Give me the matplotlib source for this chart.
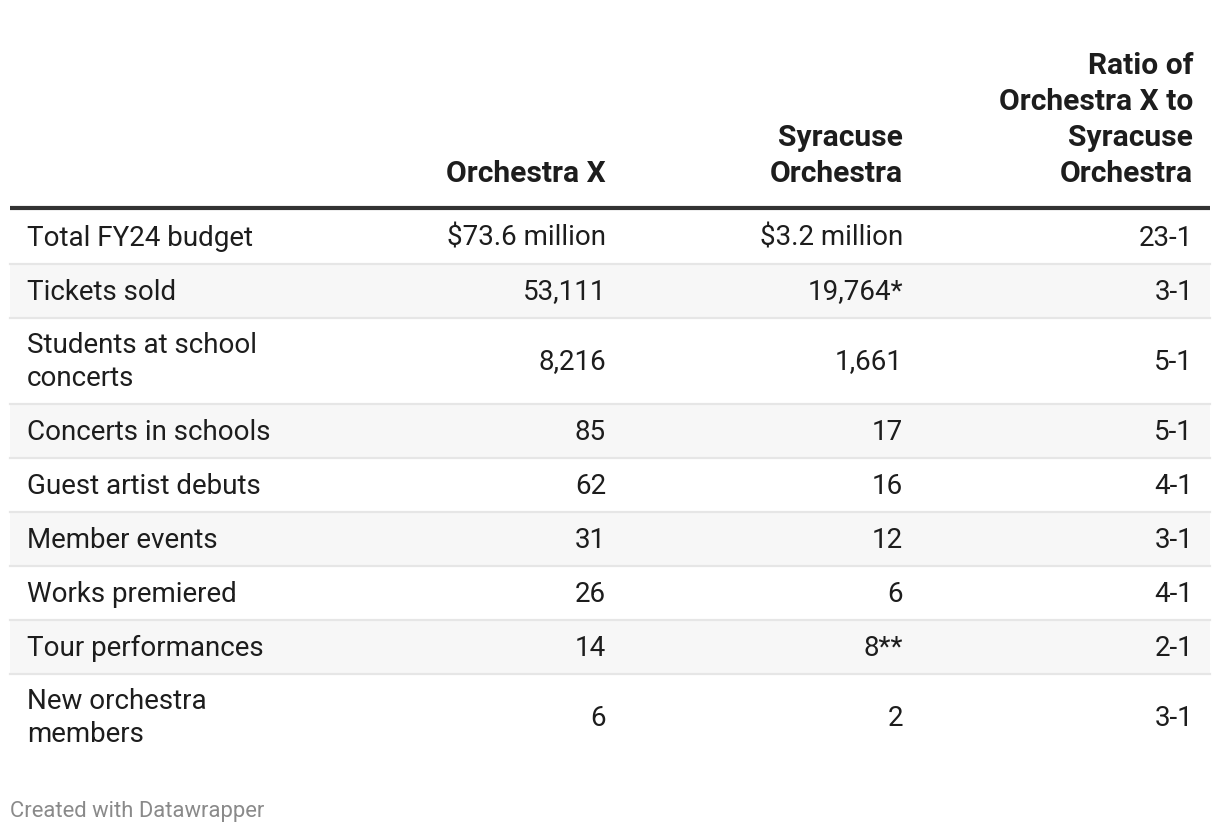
import matplotlib.pyplot as plt
from matplotlib.patches import Rectangle

plt.rcParams['font.family'] = ['Roboto', 'DejaVu Sans']

columns = ['Orchestra X', 'Syracuse\nOrchestra', 'Ratio of\nOrchestra X to\nSyracuse\nOrchestra']
row_labels = ['Total FY24 budget', 'Tickets sold', 'Students at school\nconcerts',
              'Concerts in schools', 'Guest artist debuts', 'Member events',
              'Works premiered', 'Tour performances', 'New orchestra\nmembers']
orchestra_x = ['$73.6 million', '53,111', '8,216', '85', '62', '31', '26', '14', '6']
syracuse = ['$3.2 million', '19,764*', '1,661', '17', '16', '12', '6', '8**', '2']
ratio = ['23-1', '3-1', '5-1', '5-1', '4-1', '3-1', '4-1', '2-1', '3-1']

W, H = 1220, 834
fig = plt.figure(figsize=(W / 100, H / 100), dpi=100)
ax = fig.add_axes([0, 0, 1, 1])
ax.set_xlim(0, W)
ax.set_ylim(H, 0)
ax.axis('off')

left, right = 10, 1210
label_x = 27
col_right = [606, 903, 1193]
text_color = '#1d1d1d'
size = 20

# header
for x, name in zip(col_right, columns):
    ax.text(x, 188, name, ha='right', va='bottom', fontsize=21.6, fontweight='bold',
            color=text_color, linespacing=1.36)
ax.plot([left, right], [208, 208], color='#333333', lw=3, solid_capstyle='butt')

# body rows
y = 210
for i, label in enumerate(row_labels):
    h = 86 if '\n' in label else 54
    if i % 2 == 1:
        ax.add_patch(Rectangle((left, y), right - left, h, facecolor='#f7f7f7', edgecolor='none'))
    if i < len(row_labels) - 1:
        ax.plot([left, right], [y + h, y + h], color='#e6e6e6', lw=1.6)
    cy = y + h / 2
    ax.text(label_x, cy + 1, label, ha='left', va='center', fontsize=size, color=text_color,
            linespacing=1.31)
    for x, val in zip(col_right, [orchestra_x[i], syracuse[i], ratio[i]]):
        ax.text(x, cy + 1, val, ha='right', va='center', fontsize=size, color=text_color)
    y += h

ax.text(10, 812, 'Created with Datawrapper', ha='left', va='center', fontsize=15.8, color='#8a8a8a')

fig.savefig('out.png', dpi=100, facecolor='white')
